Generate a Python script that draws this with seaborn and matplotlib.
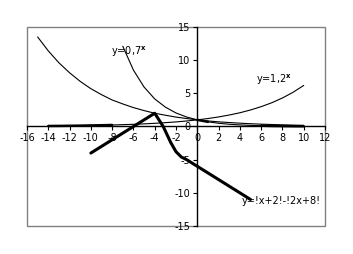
import matplotlib
matplotlib.use("Agg")
import matplotlib.pyplot as plt
import seaborn as sns
import pandas as pd
from matplotlib.patches import Rectangle

# ---- data ----
exp07_x = [-7, -6, -5, -4, -3, -2, -1, 0, 1, 2, 3, 4, 5, 6, 7, 8, 9, 10]
exp07_y = [12.1, 8.5, 5.95, 4.16, 2.92, 2.04, 1.43, 1.0, 0.7, 0.49, 0.34,
           0.24, 0.17, 0.12, 0.08, 0.06, 0.04, 0.03]

exp12_x = [-14, -13, -12, -11, -10, -9, -8, -7, -6, -5, -4, -3, -2, -1,
           0, 1, 2, 3, 4, 5, 6, 7, 8, 9, 10]
exp12_y = [0.08, 0.09, 0.11, 0.13, 0.16, 0.19, 0.23, 0.28, 0.33, 0.4, 0.48,
           0.58, 0.69, 0.83, 1.0, 1.2, 1.44, 1.73, 2.07, 2.49, 2.99, 3.58,
           4.3, 5.16, 6.19]

long_x = [-15, -14, -13, -12, -11, -10, -9, -8, -7, -6, -5, -4, -3, -2, -1,
          0, 1, 2, 3, 4, 5, 6, 7, 8, 9, 10]
long_y = [13.5, 11.4, 9.6, 8.1, 6.8, 5.7, 4.8, 4.0, 3.4, 2.85, 2.4, 2.0,
          1.7, 1.42, 1.2, 1.0, 0.84, 0.7, 0.6, 0.5, 0.42, 0.35, 0.3, 0.25,
          0.21, 0.18]

abs_x = [-10, -9, -8, -7, -6, -5, -4, -3.2, -2.5, -2, -1.5, -1, 0, 1, 2, 3,
         4, 5]
abs_y = [-4, -3, -2, -1, 0, 1, 2, 0, -2.4, -3.8, -4.6, -5, -6, -7, -8, -9,
         -10, -11]

x_ticks = list(range(-16, 13, 2))
y_ticks = [-15, -10, -5, 0, 5, 10, 15]

label_07 = r"y=0,7$^{\mathbf{x}}$"
label_12 = r"y=1,2$^{\mathbf{x}}$"
label_abs = "y=!x+2!-!2x+8!"

# ---- drawing ----
sns.set_theme(style="white")
plt.rcParams['font.family'] = ['DejaVu Sans']
plt.rcParams['text.color'] = 'black'
plt.rcParams['xtick.labelcolor'] = 'black'
plt.rcParams['ytick.labelcolor'] = 'black'

fig = plt.figure(figsize=(3.53, 2.54), dpi=100)
ax = fig.add_axes([27/353, 1-226/254, (325-27)/353, (226-27)/254])

def line(xs, ys, lw):
    df = pd.DataFrame({"x": xs, "y": ys})
    sns.lineplot(data=df, x="x", y="y", ax=ax, color="black", linewidth=lw,
                 sort=False, estimator=None, legend=False)

line(long_x, long_y, 0.8)
line(exp07_x, exp07_y, 0.8)
line(exp12_x, exp12_y, 0.8)
# overlapping near-zero parts appear heavier in the original
line(exp12_x[:7], exp12_y[:7], 1.8)
line(exp07_x[-5:], exp07_y[-5:], 1.8)
line(exp07_x[7:9], exp07_y[7:9], 1.8)
line(abs_x, abs_y, 2.2)

ax.set_xlim(-16, 12)
ax.set_ylim(-15, 15)
ax.set_xlabel("")
ax.set_ylabel("")

for s in ["top", "right"]:
    ax.spines[s].set_visible(False)
ax.spines["bottom"].set_position(("data", 0))
ax.spines["left"].set_position(("data", 0))
for s in ["bottom", "left"]:
    ax.spines[s].set_color("black")
    ax.spines[s].set_linewidth(1.0)
    ax.spines[s].set_zorder(5)

ax.add_patch(Rectangle((0, 0), 1, 1, transform=ax.transAxes, fill=False,
                       edgecolor="#808080", linewidth=1.0, zorder=0,
                       clip_on=False))

ax.set_xticks(x_ticks)
ax.set_xticklabels([str(t) for t in x_ticks])
ax.set_yticks(y_ticks)
ax.set_yticklabels([str(t) for t in y_ticks])
ax.tick_params(axis="both", which="both", direction="out", length=3,
               width=0.8, color="black", labelsize=7, pad=2,
               bottom=True, left=True, labelcolor="black")

ax.text(-8.1, 11.3, label_07, fontsize=7, va="center", ha="left",
        color="black")
ax.text(5.5, 7.0, label_12, fontsize=7, va="center", ha="left",
        color="black")
ax.text(4.2, -11.2, label_abs, fontsize=7, va="center", ha="left",
        color="black")

fig.savefig("out.png", dpi=100)
